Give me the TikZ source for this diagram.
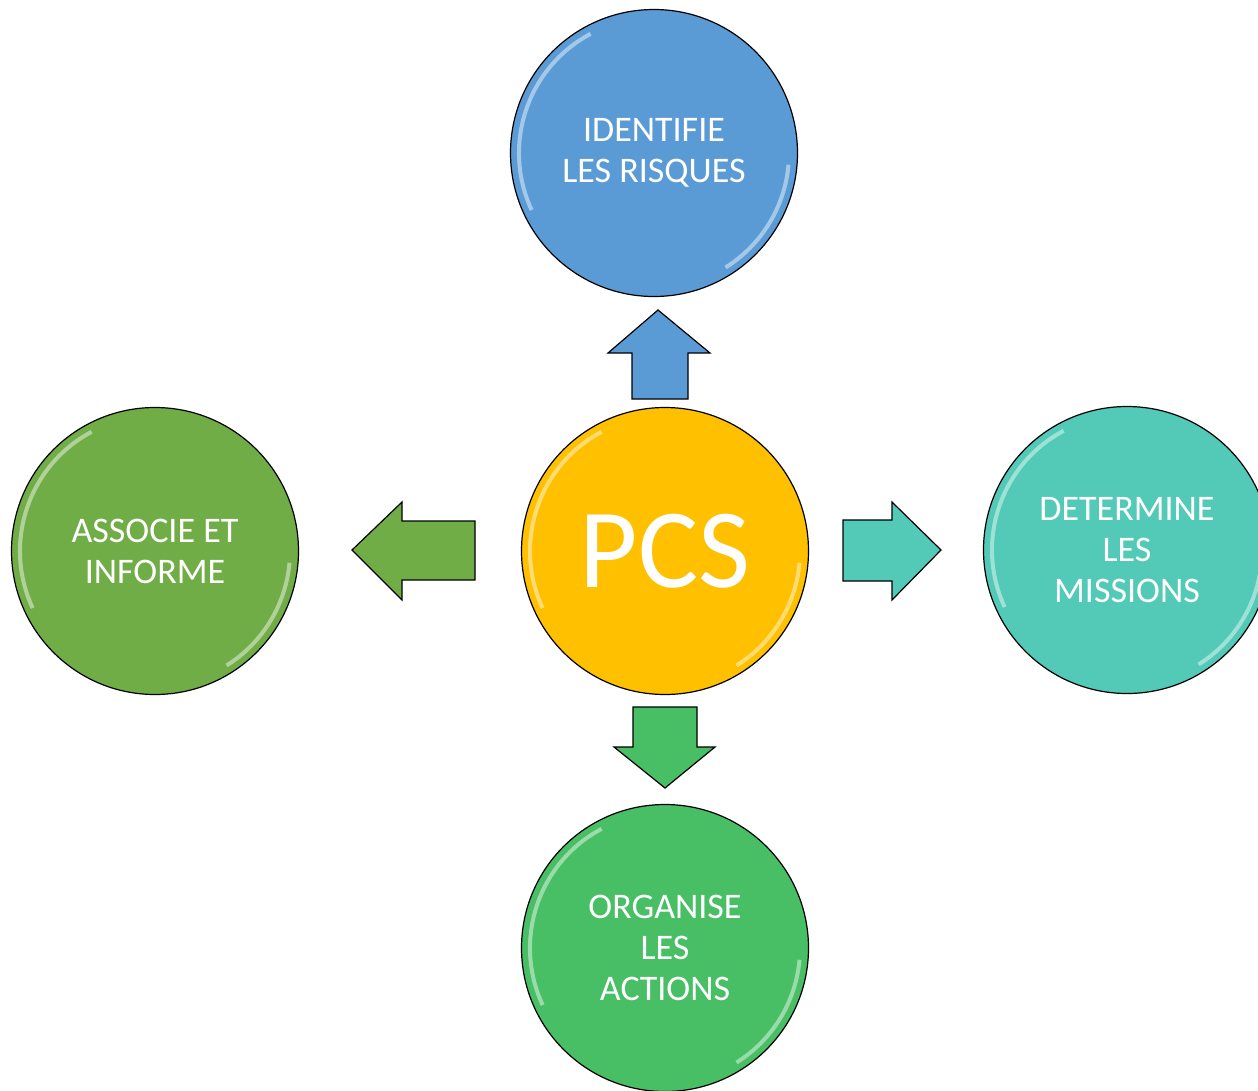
\documentclass[tikz,border=0pt]{standalone}
\usepackage{fontspec}
\setmainfont{Carlito}

\definecolor{bleu}{HTML}{5B9BD5}
\definecolor{jaune}{HTML}{FFC000}
\definecolor{vertolive}{HTML}{70AD47}
\definecolor{turquoise}{HTML}{53C9B7}
\definecolor{vertvif}{HTML}{48BE65}

\tikzset{
  bulle/.style={circle, draw=black, line width=1.2pt, minimum size=287pt, inner sep=0pt,
    align=center, text=white, font=\fontsize{36}{41}\selectfont,
    path picture={
      \draw[white, opacity=.45, line width=4pt] (path picture bounding box.center) ++(118:135pt) arc[start angle=118, end angle=205, radius=135pt];
      \draw[white, opacity=.45, line width=4pt] (path picture bounding box.center) ++(-5:135pt) arc[start angle=-5, end angle=-58, radius=135pt];
    }},
  fleche/.style={draw=black, line width=1.2pt}
}

\begin{document}
\begin{tikzpicture}[x=1pt, y=-1pt]
  \useasboundingbox (0,0) rectangle (1258,1090);

  % cercles
  \node (pcs) [bulle, fill=jaune, font=\fontsize{113}{120}\selectfont] at (665,551) {PCS};
  \node (risques) [bulle, fill=bleu] at (654,153) {IDENTIFIE\\LES RISQUES};
  \node (associe) [bulle, fill=vertolive] at (155,551) {ASSOCIE ET\\INFORME};
  \node (missions) [bulle, fill=turquoise] at (1127,550) {DETERMINE\\LES\\MISSIONS};
  \node (actions) [bulle, fill=vertvif] at (665,948) {ORGANISE\\LES\\ACTIONS};

  % fleches
  \draw[fleche, fill=bleu] (658,310) -- (710,353) -- (688,353) -- (688,399) -- (632,399) -- (632,353) -- (608,353) -- cycle;
  \draw[fleche, fill=vertvif] (665,788) -- (715,747) -- (697,747) -- (697,707) -- (633,707) -- (633,747) -- (614,747) -- cycle;
  \draw[fleche, fill=vertolive] (352,550) -- (402,502) -- (402,521) -- (475,521) -- (475,580) -- (402,580) -- (402,600) -- cycle;
  \draw[fleche, fill=turquoise] (941,550) -- (892,502) -- (892,520) -- (843,520) -- (843,581) -- (892,581) -- (892,600) -- cycle;
\end{tikzpicture}
\end{document}
